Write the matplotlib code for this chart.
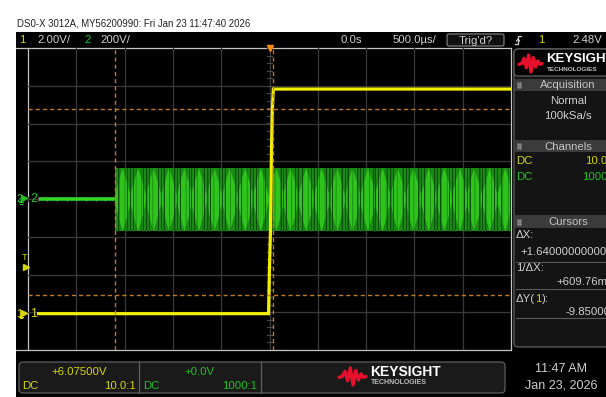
import numpy as np
import matplotlib
matplotlib.use("Agg")
import matplotlib.pyplot as plt
from matplotlib.patches import Rectangle, FancyBboxPatch, Polygon

plt.rcParams['font.family'] = ['Liberation Sans Narrow', 'Liberation Sans', 'DejaVu Sans']
plt.rcParams['hatch.linewidth'] = 0.6

# ---------------- data ----------------
time_div_ms = 0.5          # 500 us/div
ch1_scale = 2.0            # V/div
ch1_offset = 6.075         # V
ch2_scale = 200.0          # V/div
ch2_offset = 0.0
trig_level = 2.48

# channel 1 (yellow) samples: time [ms], volts
ch1_t = [-2.39, -0.01, 0.00, 0.01, 0.02, 0.03, 0.04, 2.5]
ch1_v = [0.0, 0.0, 2.5, 4.4, 8.5, 10.9, 11.9, 11.9]

# channel 2 (green): flat before burst, then burst envelope
ch2_flat_t = [-2.39, -1.60]
ch2_flat_v = [0.0, 0.0]
burst_start_ms = -1.60
burst_end_ms = 2.50
burst_top_v = 163.0
burst_bot_v = -170.0
lobe_centers_ms = [-1.52, -1.36, -1.20, -1.04, -0.88, -0.73, -0.57, -0.41, -0.25,
                   -0.09, 0.07, 0.22, 0.38, 0.54, 0.70, 0.86, 1.02, 1.17, 1.33,
                   1.49, 1.65, 1.81, 1.97, 2.12, 2.28, 2.44]

# cursors
cursor_x_ms = [-1.60, 0.04]
cursor_y_v = [10.85, 1.00]

# ---------------- figure ----------------
W, H = 606, 397
fig = plt.figure(figsize=(W / 100, H / 100), dpi=100, facecolor='white')

bg = fig.add_axes([0, 0, 1, 1], zorder=0)
bg.set_xlim(0, W); bg.set_ylim(H, 0); bg.axis('off')

GL, GR, GT, GB = 28, 511, 48, 350
pos = [GL / W, (H - GB) / H, (GR - GL) / W, (GB - GT) / H]

bg.add_patch(Rectangle((16, 32), W - 16, H - 32, facecolor='black', edgecolor='none'))

TXT = '#cfcfcf'
YEL = '#d6d600'
GRN = '#22c022'
ORG = '#c07a28'
FS = 8.2

# title
bg.text(17, 24, 'DS0-X 3012A, MY56200990: Fri Jan 23 11:47:40 2026', fontsize=6.9,
        color='#222222', va='center', ha='left')

# top bar
ty = 40
bg.text(19, ty, '1', color=YEL, fontsize=FS, va='center')
bg.text(37, ty, '2.00V/', color=TXT, fontsize=FS, va='center')
bg.text(84, ty, '2', color=GRN, fontsize=FS, va='center')
bg.text(100, ty, '200V/', color=TXT, fontsize=FS, va='center')
bg.text(351, ty, '0.0s', color=TXT, fontsize=FS, va='center', ha='center')
bg.text(393, ty, '500.0\u00b5s/', color=TXT, fontsize=FS, va='center')
bg.add_patch(FancyBboxPatch((447, 34), 57, 12, boxstyle='round,pad=0,rounding_size=2',
                            facecolor='#101010', edgecolor='#8a8a8a', lw=0.8))
bg.text(476, ty + 0.5, "Trig'd?", color=TXT, fontsize=FS, va='center', ha='center')
bg.plot([515, 518, 518, 521], [44, 44, 36, 36], color=TXT, lw=0.9)
bg.plot([516.5, 518, 519.5], [41, 39, 41], color=TXT, lw=0.9)
bg.text(538, ty, '1', color=YEL, fontsize=FS, va='center')
bg.text(602, ty, '2.48V', color=TXT, fontsize=FS, va='center', ha='right')

# grid frame
bg.plot([16, GR], [GT, GT], color='#c4c4c4', lw=0.9)
bg.plot([16, GR], [GB - 0.5, GB - 0.5], color='#c4c4c4', lw=0.9)
bg.plot([GL, GL], [GT, GB], color='#c4c4c4', lw=0.9)
bg.plot([GR, GR], [GT, GB], color='#c4c4c4', lw=0.9)

# ---------------- graticule axes (divisions) ----------------
axg = fig.add_axes(pos, zorder=1)
axg.set_xlim(-5, 5); axg.set_ylim(-4, 4); axg.axis('off')
axg.patch.set_alpha(0)
for k in range(-4, 5):
    axg.axvline(k, color='#3a3a3a', lw=0.9)
for k in range(-3, 4):
    axg.axhline(k, color='#3a3a3a', lw=0.9)
for tx in np.arange(-5, 5.01, 0.2):
    axg.plot([tx, tx], [-0.06, 0.06], color='#4a4a4a', lw=0.8)
for tyy in np.arange(-4, 4.01, 0.2):
    axg.plot([-0.06, 0.06], [tyy, tyy], color='#4a4a4a', lw=0.8)

# ---------------- channel 2 axes ----------------
ax2 = fig.add_axes(pos, zorder=2)
ax2.set_xlim(-5 * time_div_ms, 5 * time_div_ms)
ax2.set_ylim(ch2_offset - 4 * ch2_scale, ch2_offset + 4 * ch2_scale)
ax2.axis('off'); ax2.patch.set_alpha(0)
ax2.plot(ch2_flat_t, ch2_flat_v, color='#33d822', lw=2.6, solid_capstyle='butt')
ax2.fill_between([burst_start_ms, burst_end_ms], burst_bot_v, burst_top_v,
                 color='#1a8c16', lw=0)
half = (lobe_centers_ms[1] - lobe_centers_ms[0]) / 2
fr = [0.12, 0.6, 1.0, 0.6, 0.12]
offs = [-1, -0.5, 0, 0.5, 1]
for c in lobe_centers_ms:
    xs = [min(max(c + o * half, burst_start_ms), burst_end_ms) for o in offs]
    top = [burst_top_v * f for f in fr]
    bot = [burst_bot_v * f for f in fr]
    ax2.add_patch(Polygon(list(zip(xs, top)) + list(zip(xs[::-1], bot[::-1])),
                          closed=True, facecolor='#2fc41c', edgecolor='none'))
    for o in (-1.0, -0.6, 0.6):
        xx = c + o * half
        if burst_start_ms < xx < burst_end_ms:
            ax2.plot([xx, xx], [burst_bot_v, burst_top_v], color='#0b4d0b', lw=0.7)
# streak texture
ax2.fill_between([burst_start_ms, burst_end_ms], burst_bot_v, burst_top_v,
                 facecolor='none', edgecolor='#0c560c', hatch='|||', lw=0, alpha=0.55)

# ---------------- channel 1 axes ----------------
ax1 = fig.add_axes(pos, zorder=3)
ax1.set_xlim(-5 * time_div_ms, 5 * time_div_ms)
ax1.set_ylim(ch1_offset - 4 * ch1_scale, ch1_offset + 4 * ch1_scale)
ax1.axis('off'); ax1.patch.set_alpha(0)
ax1.plot(ch1_t, ch1_v, color='#f2ee00', lw=2.3, solid_joinstyle='miter')

for cx in cursor_x_ms:
    ax1.axvline(cx, color=ORG, lw=1.0, dashes=(3, 2.2))
for cy in cursor_y_v:
    ax1.axhline(cy, color=ORG, lw=1.0, dashes=(3, 2.2))
ax1.plot([0], [1.0], marker='v', color='#ff8a10', markersize=5,
         transform=ax1.get_xaxis_transform(), clip_on=False)

# ---------------- foreground markers ----------------
fg = fig.add_axes([0, 0, 1, 1], zorder=4)
fg.set_xlim(0, W); fg.set_ylim(H, 0); fg.axis('off'); fg.patch.set_alpha(0)


def ground_marker(y, color, label):
    fg.text(16, y, label, color=color, fontsize=8, va='center', ha='left')
    fg.plot([24], [y - 1], marker='>', color=color, markersize=4)
    fg.plot([21, 21], [y - 1, y + 3], color=color, lw=0.8)
    fg.plot([19, 23], [y + 3, y + 3], color=color, lw=0.8)
    fg.plot([20, 22], [y + 4.5, y + 4.5], color=color, lw=0.8)
    fg.text(30, y, label, color=color, fontsize=9, va='center', ha='left')


y_ch2 = GT + (ch2_offset + 4 * ch2_scale - 0.0) / (8 * ch2_scale) * (GB - GT)
y_ch1 = GT + (ch1_offset + 4 * ch1_scale - 0.0) / (8 * ch1_scale) * (GB - GT)
y_trg = GT + (ch1_offset + 4 * ch1_scale - trig_level) / (8 * ch1_scale) * (GB - GT)
ground_marker(y_ch2, GRN, '2')
ground_marker(y_ch1, YEL, '1')
fg.text(25, y_trg - 9, 'T', color=YEL, fontsize=6.5, va='center', ha='center')
fg.plot([25.5], [y_trg], marker='>', color=YEL, markersize=4)

# ---------------- right panel ----------------
bg.add_patch(FancyBboxPatch((514, 49), 100, 298, boxstyle='round,pad=0,rounding_size=4',
                            facecolor='#141414', edgecolor='#6a6a6a', lw=0.8))
bg.add_patch(FancyBboxPatch((514, 49), 100, 27, boxstyle='round,pad=0,rounding_size=4',
                            facecolor='#050505', edgecolor='#6a6a6a', lw=0.8))


def keysight_logo(ax, x0, y0, w, h, fs1, fs2, tx):
    px = [0, 0.12, 0.22, 0.32, 0.42, 0.52, 0.62, 0.72, 0.82, 0.9, 1.0]
    py = [0.55, 0.5, 0.2, 0.75, 0.0, 1.0, 0.15, 0.7, 0.35, 0.55, 0.5]
    ax.plot([x0 + p * w for p in px], [y0 + q * h for q in py], color='#e8102c',
            lw=2.4, solid_joinstyle='round', solid_capstyle='round')
    ax.text(tx, y0 + 0.25 * h, 'KEYSIGHT', color='white', fontsize=fs1,
            fontweight='bold', va='center', ha='left', family=['Liberation Sans', 'DejaVu Sans'])
    ax.text(tx + 1, y0 + 0.85 * h, 'TECHNOLOGIES', color='#bdbdbd', fontsize=fs2,
            fontweight='bold', va='center', ha='left', family=['Liberation Sans', 'DejaVu Sans'])


keysight_logo(bg, 519, 55, 23, 17, 9.5, 4.6, 546)

for (y0, y1, label) in [(79, 91, 'Acquisition'), (140, 152, 'Channels'), (215, 228, 'Cursors')]:
    bg.add_patch(Rectangle((515, y0), 95, y1 - y0, facecolor='#3b3b3b', edgecolor='none'))
    bg.text(568, (y0 + y1) / 2 + 0.5, label, color='#c4c4c4', fontsize=FS,
            va='center', ha='center')
    for dx in (0, 2.2):
        for dy in (-2, 0, 2):
            bg.plot([518 + dx], [(y0 + y1) / 2 + dy], marker='s', markersize=0.7,
                    color='#8a8a8a')

bg.text(568, 101, 'Normal', color=TXT, fontsize=FS, va='center', ha='center')
bg.text(568, 116, '100kSa/s', color=TXT, fontsize=FS, va='center', ha='center')
bg.text(516, 161, 'DC', color=YEL, fontsize=FS, va='center')
bg.text(585, 161, '10.0:1', color=YEL, fontsize=FS, va='center')
bg.text(516, 177, 'DC', color=GRN, fontsize=FS, va='center')
bg.text(582, 177, '1000:1', color=GRN, fontsize=FS, va='center')

bg.text(516, 235, '\u0394X:', color=TXT, fontsize=FS, va='center')
bg.text(520, 252, '+1.640000000000s', color=TXT, fontsize=FS, va='center')
bg.plot([516, 610], [262, 262], color='#5a5a5a', lw=0.8)
bg.text(516, 268, '1/\u0394X:', color=TXT, fontsize=FS, va='center')
bg.text(556, 282, '+609.76mHz', color=TXT, fontsize=FS, va='center')
bg.plot([516, 610], [289, 289], color='#5a5a5a', lw=0.8)

# "ΔY(1):" with the yellow channel number, placed by measured widths
renderer = fig.canvas.get_renderer()
t_a = bg.text(516, 299, '\u0394Y(', color=TXT, fontsize=FS, va='center')
wa = t_a.get_window_extent(renderer).width
t_b = bg.text(516 + wa, 299, '1', color=YEL, fontsize=FS, va='center')
wb = t_b.get_window_extent(renderer).width
bg.text(516 + wa + wb, 299, '):', color=TXT, fontsize=FS, va='center')
bg.text(566, 312, '-9.85000V', color=TXT, fontsize=FS, va='center')
bg.plot([516, 610], [318, 318], color='#5a5a5a', lw=0.8)

# ---------------- bottom bar ----------------
bg.add_patch(FancyBboxPatch((19, 362), 486, 31, boxstyle='round,pad=0,rounding_size=4',
                            facecolor='#1a1a1a', edgecolor='#5e5e5e', lw=0.9))
bg.plot([139, 139], [362, 393], color='#5e5e5e', lw=0.9)
bg.plot([261, 261], [362, 393], color='#5e5e5e', lw=0.9)
bg.text(79, 372, '+%.5fV' % ch1_offset, color=YEL, fontsize=FS, va='center', ha='center')
bg.text(22, 386, 'DC', color=YEL, fontsize=FS, va='center')
bg.text(136, 386, '10.0:1', color=YEL, fontsize=FS, va='center', ha='right')
bg.text(200, 372, '+%.1fV' % ch2_offset, color=GRN, fontsize=FS, va='center', ha='center')
bg.text(143, 386, 'DC', color=GRN, fontsize=FS, va='center')
bg.text(257, 386, '1000:1', color=GRN, fontsize=FS, va='center', ha='right')
keysight_logo(bg, 339, 368, 27, 17, 10, 5, 370)

bg.text(561, 369, '11:47 AM', color=TXT, fontsize=9, va='center', ha='center')
bg.text(561, 385, 'Jan 23, 2026', color=TXT, fontsize=9, va='center', ha='center')

fig.savefig('out.png', dpi=100, facecolor='white')
